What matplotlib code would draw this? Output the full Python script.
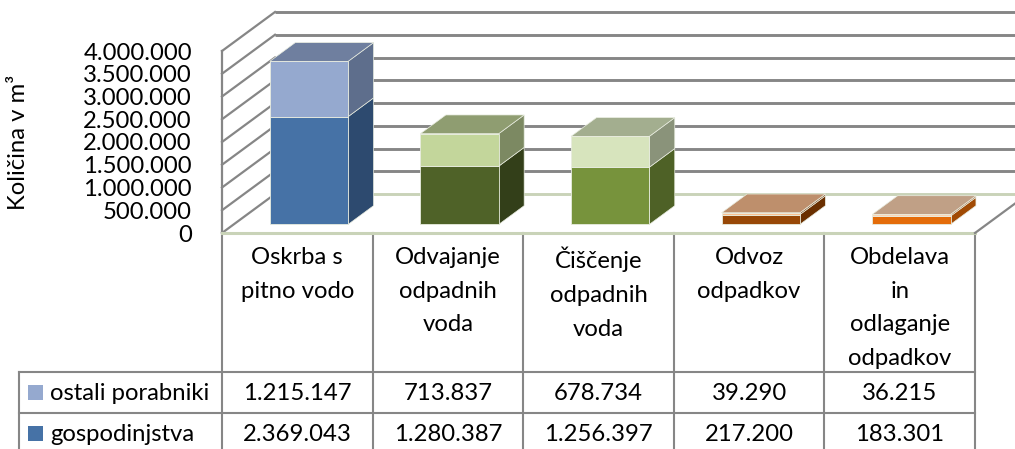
#!/usr/bin/env python3
"""Stacked 3-D style columns (households vs. other users) with a data table underneath."""
import matplotlib
matplotlib.use("Agg")
import matplotlib.pyplot as plt
from matplotlib.patches import Polygon, Rectangle

CATEGORIES = ["Oskrba s\npitno vodo", "Odvajanje\nodpadnih\nvoda", "Čiščenje\nodpadnih\nvoda",
              "Odvoz\nodpadkov", "Obdelava\nin\nodlaganje\nodpadkov"]
SERIES = ["ostali porabniki", "gospodinjstva"]
OSTALI = [1215147, 713837, 678734, 39290, 36215]
GOSPODINJSTVA = [2369043, 1280387, 1256397, 217200, 183301]
Y_TICKS = [0, 500000, 1000000, 1500000, 2000000, 2500000, 3000000, 3500000, 4000000]

# per-category shading: (household front, household side, others front, others side, top)
SHADES = [
    ("#4672a6", "#2d4a6f", "#95a9cf", "#5e6e8c", "#6f7f9f"),
    ("#4f6228", "#333f19", "#c3d69b", "#7c8962", "#8f9d71"),
    ("#77933c", "#4e6126", "#d7e4bd", "#8a937a", "#a3ae8f"),
    ("#984807", "#6a2f00", "#f9c08f", "#7e4a20", "#be8f6c"),
    ("#e46c0a", "#a14a04", "#fcd5b5", "#a36a40", "#c0a086"),
]
KEY_COLORS = ["#95a9cf", "#4672a6"]

FONT = ["Lato", "DejaVu Sans"]
FS = 17.2
GRID, FLOOR = "#868686", "#c9d3b8"

# layout in pixels
FIG_W, FIG_H, DPI = 1015, 449, 100
X0, COL_W = 222, 150.6
Y0, PX_PER_M = 233, 45.5
DEPTH_X, DEPTH_Y = 53, 39          # oblique offset of the back wall
ROWS = [372, 413, 454]
LABEL_X0 = 19

plt.rcParams["font.family"] = FONT
fig = plt.figure(figsize=(FIG_W / DPI, FIG_H / DPI), dpi=DPI, facecolor="white")

# table / frame layer in pixel coordinates
tax = fig.add_axes([0, 0, 1, 1])
tax.set_xlim(0, FIG_W); tax.set_ylim(FIG_H, 0); tax.axis("off")

# chart layer: x in categories, y in m3
ax = fig.add_axes([X0 / FIG_W, (FIG_H - Y0) / FIG_H, 5 * COL_W / FIG_W, Y0 / FIG_H])
ax.set_xlim(0, len(CATEGORIES)); ax.set_ylim(0, Y0 / PX_PER_M * 1e6)
ax.axis("off"); ax.patch.set_alpha(0)

DX = DEPTH_X / COL_W
DY = DEPTH_Y / PX_PER_M * 1e6


def proj(x, v, d):
    return (x + d * DX, v + d * DY)


def fmt(v):
    return f"{v:,}".replace(",", ".")


n = len(CATEGORIES)
# walls: gridlines on the back wall and the matching diagonals on the side wall
for v in Y_TICKS:
    col = FLOOR if v == 0 else GRID
    bx, by = proj(0, v, 1)
    ax.plot([bx, n + DX + 0.5], [by, by], color=col, lw=2.1, clip_on=False, zorder=1,
            solid_capstyle="butt")
    ax.plot([0, bx], [v, by], color=GRID, lw=1.6, clip_on=False, zorder=1)
ax.plot([0, 0], [0, Y_TICKS[-1]], color=GRID, lw=1.6, clip_on=False, zorder=1)
# floor front and right edge
ax.plot([0, n], [0, 0], color=FLOOR, lw=2.2, clip_on=False, zorder=1)
rx, ry = proj(n, 0, 1)
ax.plot([n, rx], [0, ry], color=GRID, lw=1.6, clip_on=False, zorder=1)

label_drop = 2 / PX_PER_M * 1e6
for v in Y_TICKS:
    ax.text(-30 / COL_W, v - label_drop, fmt(v), ha="right", va="center", fontsize=FS,
            clip_on=False)

# columns
D1, D2 = 0.22, 0.70
BAR_W = 0.52
for i in range(n):
    gf, gs, of, os_, top = SHADES[i]
    xc = i + 0.5 + D1 * DX
    base = D1 * DY
    g, o = GOSPODINJSTVA[i], OSTALI[i]
    ax.bar(xc, g, BAR_W, bottom=base, color=gf, edgecolor="#e8ecdf", lw=0.6, zorder=3)
    ax.bar(xc, o, BAR_W, bottom=base + g, color=of, edgecolor="#e8ecdf", lw=0.6, zorder=3)
    xr = xc + BAR_W / 2
    xl = xc - BAR_W / 2
    dd = D2 - D1
    for lo, hi, c in [(0, g, gs), (g, g + o, os_)]:
        pts = [(xr, base + lo), (xr + dd * DX, base + lo + dd * DY),
               (xr + dd * DX, base + hi + dd * DY), (xr, base + hi)]
        ax.add_patch(Polygon(pts, closed=True, facecolor=c, edgecolor="#e8ecdf", lw=0.5,
                             zorder=2, clip_on=False))
    t = base + g + o
    pts = [(xl, t), (xr, t), (xr + dd * DX, t + dd * DY), (xl + dd * DX, t + dd * DY)]
    ax.add_patch(Polygon(pts, closed=True, facecolor=top, edgecolor="#e8ecdf", lw=0.5,
                         zorder=2, clip_on=False))

fig.text(19 / FIG_W, 1 - 142 / FIG_H, "Količina v m³", rotation=90, ha="center", va="center",
         fontsize=FS)

# data table
cols = [X0 + k * COL_W for k in range(n + 1)]
for x in cols:
    tax.plot([x, x], [Y0, FIG_H], color=GRID, lw=1.5)
for y in ROWS[:2]:
    tax.plot([LABEL_X0, cols[-1]], [y, y], color=GRID, lw=1.5)
tax.plot([LABEL_X0, LABEL_X0], [ROWS[0], FIG_H], color=GRID, lw=1.5)

for i, lab in enumerate(CATEGORIES):
    tax.text(cols[i] + COL_W / 2, Y0 + 14, lab, ha="center", va="top", fontsize=FS,
             linespacing=1.74)

for r, (name, vals, kc) in enumerate(zip(SERIES, [OSTALI, GOSPODINJSTVA], KEY_COLORS)):
    yc = (ROWS[r] + ROWS[r + 1]) / 2 + 1
    tax.add_patch(Rectangle((28, yc - 8.5), 15, 15, facecolor=kc, edgecolor="none"))
    tax.text(50, yc, name, ha="left", va="center", fontsize=FS)
    for i, v in enumerate(vals):
        tax.text(cols[i] + COL_W / 2, yc, fmt(v), ha="center", va="center", fontsize=FS)

fig.savefig("out.png", dpi=DPI, facecolor="white")
